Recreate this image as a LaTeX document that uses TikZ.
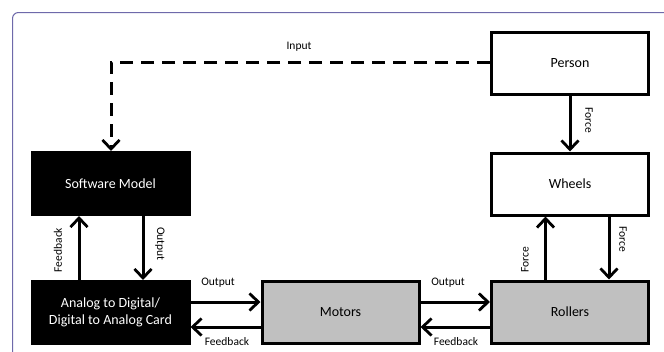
\documentclass[tikz,border=0pt]{standalone}
\usepackage{fontspec}
\setmainfont{Carlito}
\usetikzlibrary{arrows.meta}
\definecolor{framec}{RGB}{110,105,170}
\definecolor{grayfill}{RGB}{192,192,192}
\begin{document}
\begin{tikzpicture}[x=1pt,y=-1pt,
  blk/.style={draw=black,line width=3pt,minimum width=157pt,minimum height=62pt,inner sep=0pt,font=\fontsize{14}{17}\selectfont,align=center},
  whitebox/.style={blk,fill=white},
  blackbox/.style={blk,fill=black,text=white},
  graybox/.style={blk,fill=grayfill},
  conn/.style={line width=3pt,-{Straight Barb[length=9pt,width=17pt,line width=2.8pt]}},
  dconn/.style={conn,dash pattern=on 13pt off 8pt},
  lbl/.style={font=\fontsize{11.5}{13}\selectfont,inner sep=1pt}]
\useasboundingbox (0,0) rectangle (664,351);
\fill[white] (0,0) rectangle (664,351);
\draw[framec,line width=1pt,rounded corners=6pt] (12.5,400) -- (12.5,12.5) -- (700,12.5);
\node[whitebox] (person) at (570,63) {Person};
\node[whitebox] (wheels) at (570,184) {Wheels};
\node[graybox] (rollers) at (570,312) {Rollers};
\node[graybox] (motors) at (340.5,312) {Motors};
\node[blackbox] (sm) at (110.5,183.5) {Software Model};
\node[blackbox] (card) at (110.5,312.5) {Analog to Digital/\\Digital to Analog Card};
\coordinate (corner) at (111,62);
\draw[dconn] (person.west |- 0,62) -- (corner) -- (sm.north -| corner);
\node[lbl] (inl) at (299,47) {Input};
\draw[conn] (person.south) -- (wheels.north);
\node[lbl,rotate=-90] (f1) at (589,120) {Force};
\draw[conn] (rollers.north -| 545.5,0) -- (wheels.south -| 545.5,0);
\node[lbl,rotate=90] (f2) at (525,260) {Force};
\draw[conn] (wheels.south -| 609,0) -- (rollers.north -| 609,0);
\node[lbl,rotate=-90] (f3) at (623,239) {Force};
\draw[conn] (card.north -| 79,0) -- (sm.south -| 79,0);
\node[lbl,rotate=90] (fb1) at (58,250) {Feedback};
\draw[conn] (sm.south -| 143,0) -- (card.north -| 143,0);
\node[lbl,rotate=-90] (o1) at (160,244) {Output};
\draw[conn] (card.east |- 0,302) -- (motors.west |- 0,302);
\node[lbl] (o2) at (218,283) {Output};
\draw[conn] (motors.west |- 0,327) -- (card.east |- 0,327);
\node[lbl] (fb2) at (227,342) {Feedback};
\draw[conn] (motors.east |- 0,302) -- (rollers.west |- 0,302);
\node[lbl] (o3) at (448,283) {Output};
\draw[conn] (rollers.west |- 0,327) -- (motors.east |- 0,327);
\node[lbl] (fb3) at (456,342) {Feedback};
\end{tikzpicture}
\end{document}
